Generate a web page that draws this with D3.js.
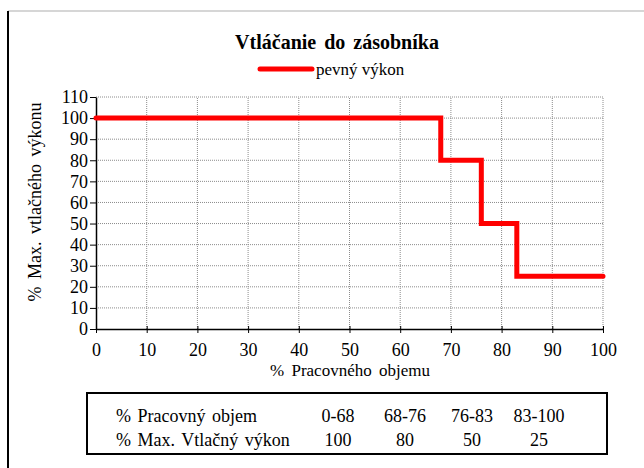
<!DOCTYPE html>
<html lang="sk">
<head>
<meta charset="utf-8">
<title>Vtláčanie do zásobníka</title>
<script src="https://cdn.jsdelivr.net/npm/d3@7"></script>
<style>
  * { margin: 0; padding: 0; }
  body { background: #fff; }
  svg text { font-family: "Liberation Serif", "Times New Roman", serif; fill: #000; }
  .grid line { stroke: #8c8c8c; stroke-width: 1; stroke-dasharray: 1,1; }
  .axis path, .axis line { stroke: #000; }
</style>
</head>
<body>
<script>
// data
var breaks = [0, 68, 76, 83, 100];          // % pracovného objemu
var power = [100, 80, 50, 25];              // % max. vtlačného výkonu
var rangeLabels = ["0-68", "68-76", "76-83", "83-100"];
var xTicks = [0, 10, 20, 30, 40, 50, 60, 70, 80, 90, 100];
var yTicks = [0, 10, 20, 30, 40, 50, 60, 70, 80, 90, 100, 110];

var w = 644, h = 468;
var serif = "Liberation Serif, Times New Roman, serif";
var svg = d3.select("body").append("svg").attr("width", w).attr("height", h)
  .attr("font-family", serif);

// outer frame
svg.append("line").attr("x1", 8).attr("x2", w).attr("y1", 11).attr("y2", 11)
  .attr("stroke", "#c8c8c8").attr("stroke-width", 1.5);
svg.append("line").attr("x1", 8).attr("x2", 8).attr("y1", 11).attr("y2", h)
  .attr("stroke", "#000").attr("stroke-width", 2);

var x = d3.scaleLinear().domain([0, 100]).range([96, 603]);
var y = d3.scaleLinear().domain([0, 110]).range([329, 97]);

// gridlines
var grid = svg.append("g").attr("class", "grid");
grid.selectAll(".gx").data(xTicks.slice(1)).enter().append("line")
  .attr("x1", d => x(d)).attr("x2", d => x(d))
  .attr("y1", y(0)).attr("y2", y(110));
grid.selectAll(".gy").data(yTicks.slice(1)).enter().append("line")
  .attr("x1", x(0)).attr("x2", x(100))
  .attr("y1", d => y(d)).attr("y2", d => y(d));

// axes
var xAxis = svg.append("g").attr("class", "axis")
  .attr("transform", "translate(0," + y(0) + ")")
  .call(d3.axisBottom(x).tickValues(xTicks).tickSizeInner(4).tickSizeOuter(0).tickPadding(10));
xAxis.selectAll(".tick line").attr("y1", -3).attr("y2", 4);
var yAxis = svg.append("g").attr("class", "axis")
  .attr("transform", "translate(" + x(0) + ",0)")
  .call(d3.axisLeft(y).tickValues(yTicks).tickSizeInner(6).tickSizeOuter(0).tickPadding(2));
svg.selectAll(".axis").attr("font-family", serif).attr("font-size", 18);
svg.selectAll(".axis path").attr("stroke-width", 1.5);

// step line
var pts = breaks.map(function(b, i) { return [b, power[Math.min(i, power.length - 1)]]; });
var line = d3.line().x(d => x(d[0])).y(d => y(d[1])).curve(d3.curveStepAfter);
svg.append("path").datum(pts).attr("d", line)
  .attr("fill", "none").attr("stroke", "#ff0000").attr("stroke-width", 5)
  .attr("stroke-linejoin", "miter").attr("stroke-linecap", "round");

// title and legend
svg.append("text").attr("x", 337).attr("y", 49).attr("text-anchor", "middle")
  .attr("font-size", 20).attr("font-weight", "bold").attr("word-spacing", 3)
  .text("Vtláčanie do zásobníka");
svg.append("line").attr("x1", 260).attr("x2", 312).attr("y1", 69).attr("y2", 69)
  .attr("stroke", "#ff0000").attr("stroke-width", 5).attr("stroke-linecap", "round");
svg.append("text").attr("x", 316).attr("y", 75).attr("font-size", 17).text("pevný výkon");

// axis titles
svg.append("text").attr("x", 350).attr("y", 376).attr("text-anchor", "middle")
  .attr("font-size", 17).attr("word-spacing", 3).text("% Pracovného objemu");
svg.append("text").attr("transform", "translate(41,202) rotate(-90)")
  .attr("text-anchor", "middle").attr("font-size", 18).attr("word-spacing", 3)
  .text("% Max. vtlačného výkonu");

// data table
svg.append("rect").attr("x", 87).attr("y", 393).attr("width", 520).attr("height", 61)
  .attr("fill", "none").attr("stroke", "#000").attr("stroke-width", 2);
var colX = d3.scalePoint().domain(rangeLabels).range([338, 539]);
var rows = [
  { label: "% Pracovný objem", vals: rangeLabels, y: 422 },
  { label: "% Max. Vtlačný výkon", vals: power, y: 446 }
];
rows.forEach(function(r) {
  svg.append("text").attr("x", 116).attr("y", r.y).attr("font-size", 18)
    .attr("word-spacing", 2).text(r.label);
  svg.selectAll(null).data(r.vals).enter().append("text")
    .attr("x", (d, i) => colX(rangeLabels[i])).attr("y", r.y)
    .attr("text-anchor", "middle").attr("font-size", 18).text(d => d);
});
</script>
</body>
</html>
